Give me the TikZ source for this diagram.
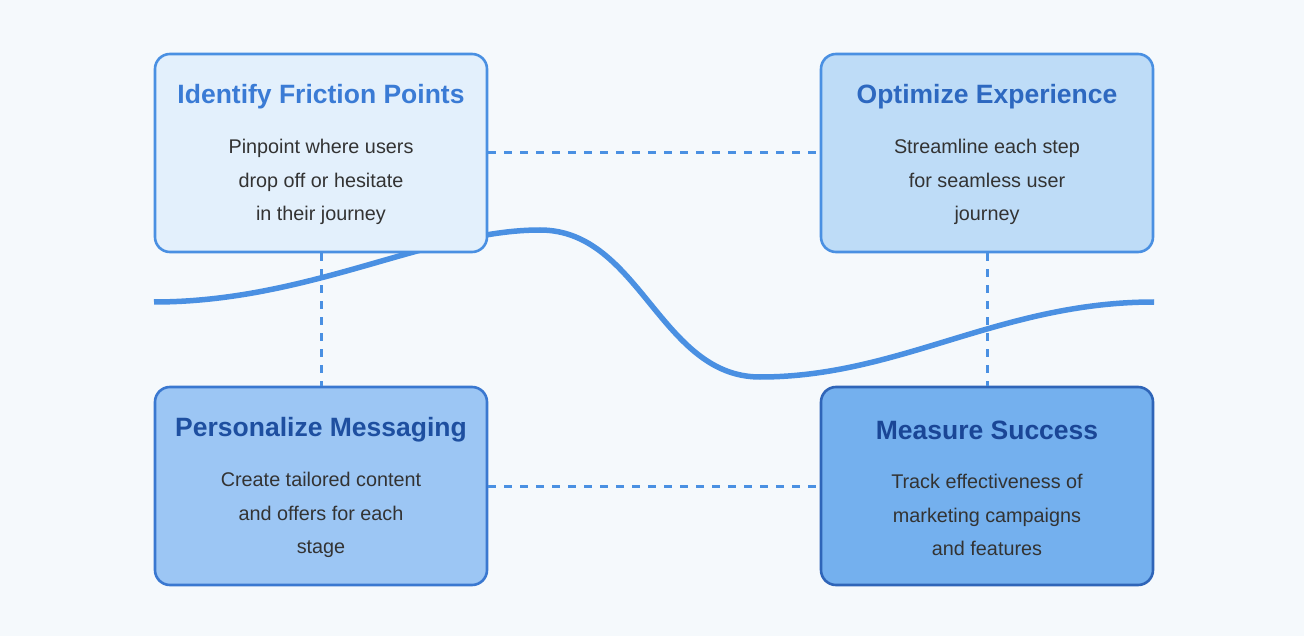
\documentclass[tikz,border=0pt]{standalone}
\usepackage{fontspec}
\setmainfont{Liberation Sans}
\usetikzlibrary{positioning}
\definecolor{bgpage}{HTML}{F5F9FC}
\definecolor{wave}{HTML}{4A90E2}
\definecolor{fillA}{HTML}{E3F0FC}
\definecolor{fillB}{HTML}{BEDCF7}
\definecolor{fillC}{HTML}{9CC6F4}
\definecolor{fillD}{HTML}{74B0EE}
\definecolor{lineA}{HTML}{4A90E2}
\definecolor{lineC}{HTML}{3A78D0}
\definecolor{lineD}{HTML}{2F65B8}
\definecolor{headA}{HTML}{3A7BD5}
\definecolor{headB}{HTML}{2D68C0}
\definecolor{headC}{HTML}{1E4FA0}
\definecolor{headD}{HTML}{1A4696}
\definecolor{bodytext}{HTML}{333333}
\tikzset{
  stagebox/.style={rectangle, rounded corners=15pt, line width=2.6pt,
    minimum width=332pt, minimum height=198pt},
  stagehead/.style={font=\bfseries\fontsize{26.5}{30}\selectfont},
  stagetext/.style={align=center, text=bodytext,
    font=\fontsize{19.8}{33.5}\selectfont},
  link/.style={wave, line width=3pt, dash pattern=on 8pt off 8pt}
}
\begin{document}
\begin{tikzpicture}[x=1pt,y=-1pt]
		\useasboundingbox (0,0) rectangle (1304,636);
		\fill[bgpage] (0,0) rectangle (1304,636);
		
		% journey wave behind the boxes
		\draw[wave, line width=5.5pt] (154,302) .. controls (310,302) and (430,230) .. (540,230)
		.. controls (640,230) and (660,377) .. (760,377)
		.. controls (900,377) and (1000,302) .. (1154,302);
		
		\node[stagebox, draw=lineA, fill=fillA] (friction) at (321,153) {};
		\node[stagebox, draw=lineA, fill=fillB] (optimize) at (987,153) {};
		\node[stagebox, draw=lineC, fill=fillC] (personal) at (321,486) {};
		\node[stagebox, draw=lineD, fill=fillD] (measure) at (987,486) {};
		
		\node[stagehead, text=headA] (frictionhead) at (321,97) {Identify Friction Points};
		\node[stagehead, text=headB] (optimizehead) at (987,97) {Optimize Experience};
		\node[stagehead, text=headC] (personalhead) at (321,430) {Personalize Messaging};
		\node[stagehead, text=headD] (measurehead) at (987,430) {Measure Success};
		
		\node[stagetext] (frictiontext) at (321,182) {Pinpoint where users\\drop off or hesitate\\in their journey};
		\node[stagetext] (optimizetext) at (987,182) {Streamline each step\\for seamless user\\journey};
		\node[stagetext] (personaltext) at (321,515) {Create tailored content\\and offers for each\\stage};
		\node[stagetext] (measuretext) at (987,515) {Track effectiveness of\\marketing campaigns\\and features};
		
		\draw[link] (friction.east) -- (optimize.west);
		\draw[link] (personal.east) -- (measure.west);
		\draw[link] (friction.south) -- (personal.north);
		\draw[link] (optimize.south) -- (measure.north);
		
	\end{tikzpicture}
\end{document}
